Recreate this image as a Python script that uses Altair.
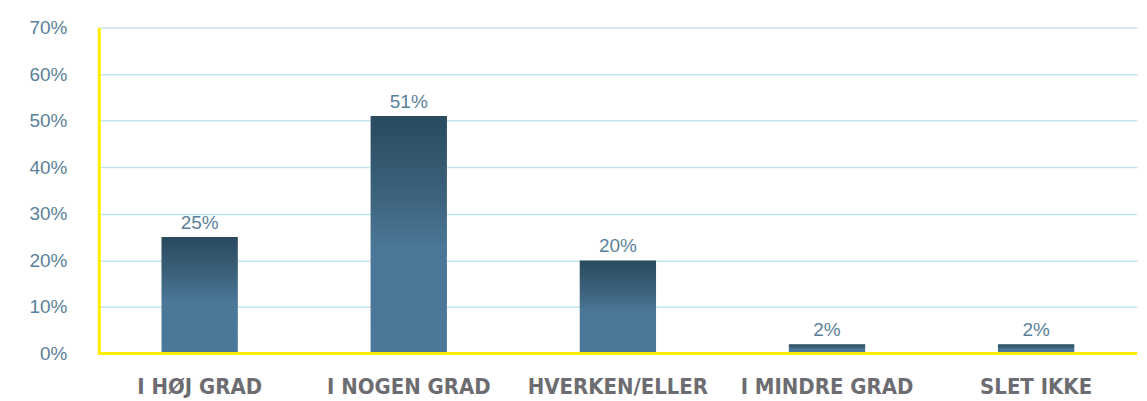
import altair as alt
import pandas as pd

categories = ["I HØJ GRAD", "I NOGEN GRAD", "HVERKEN/ELLER", "I MINDRE GRAD", "SLET IKKE"]
values = [0.25, 0.51, 0.20, 0.02, 0.02]
y_ticks = [0, 0.1, 0.2, 0.3, 0.4, 0.5, 0.6, 0.7]

df = pd.DataFrame({"cat": categories, "val": values})

grad = alt.Gradient(
    gradient="linear",
    stops=[
        alt.GradientStop(color="#294a5f", offset=0),
        alt.GradientStop(color="#3a6079", offset=0.3),
        alt.GradientStop(color="#4a7697", offset=0.55),
        alt.GradientStop(color="#4b7898", offset=1),
    ],
    x1=0, x2=0, y1=0, y2=1,
)

x = alt.X(
    "cat:N",
    sort=categories,
    scale=alt.Scale(paddingInner=0.635, paddingOuter=0.3),
    axis=alt.Axis(
        title=None,
        labelAngle=0,
        ticks=False,
        domain=False,
        labelColor="#6c6c71",
        labelFont="DejaVu Sans Condensed",
        labelFontWeight="bold",
        labelFontSize=22,
        labelLimit=0,
        labelPadding=23,
    ),
)
y = alt.Y(
    "val:Q",
    scale=alt.Scale(domain=[0, 0.7], nice=False),
    axis=alt.Axis(
        title=None,
        values=y_ticks,
        format=".0%",
        ticks=False,
        domain=True,
        domainColor="#ffee00",
        domainWidth=3,
        labelColor="#5b7f99",
        labelFont="Liberation Sans",
        labelFontSize=19,
        labelPadding=32,
        gridColor="#c4e5ed",
        gridWidth=1.5,
    ),
)

bars = alt.Chart(df).mark_bar(color=grad).encode(x=x, y=y)

labels = alt.Chart(df).mark_text(
    baseline="bottom", dy=-4, color="#5b7f99", font="Liberation Sans", fontSize=19
).encode(x=alt.X("cat:N", sort=categories), y="val:Q", text=alt.Text("val:Q", format=".0%"))

baseline = alt.Chart(df).mark_rule(color="#ffee00", strokeWidth=3).encode(
    y=alt.datum(0)
)

chart = (
    alt.layer(bars, baseline, labels)
    .properties(
        width=1041,
        height=327,
        padding={"left": 20, "top": 10, "right": 0, "bottom": 0},
    )
    .configure_view(stroke=None)
)

chart.save("out.html", embed_options={"renderer": "svg", "actions": False})
